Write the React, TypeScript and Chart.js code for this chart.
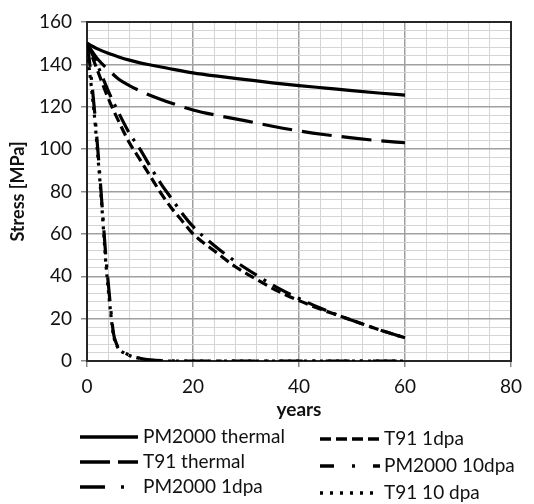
import React, { useEffect, useRef } from 'react';
import { Chart, registerables } from 'chart.js';

Chart.register(...registerables);

// ---- data ----
const seriesLabels = ['PM2000 thermal', 'T91 thermal', 'PM2000 1dpa', 'T91 1dpa', 'PM2000 10dpa', 'T91 10 dpa'];

const thermalYears = [0, 1, 2, 4, 6, 8, 10, 12, 15, 20, 25, 30, 35, 40, 45, 50, 55, 60];
const pm2000Thermal = [150, 148.6, 147.3, 145.2, 143.5, 142, 140.7, 139.7, 138.3, 136, 134.3, 132.8, 131.3, 130, 128.8, 127.6, 126.5, 125.5];
const t91Thermal = [150, 146, 142.5, 137.5, 133, 130, 127.5, 125.3, 122.5, 118.5, 115.7, 113.3, 110.8, 108.6, 106.8, 105.3, 104, 103];

const moderateYears = [0, 2, 4, 6, 8, 10, 12, 14, 16, 18, 20, 24, 28, 32, 36, 40, 44, 48, 52, 56, 60];
const t91_1dpa = [150, 137, 124, 113, 103, 95, 87, 79, 72, 66, 60, 52, 44.5, 38.5, 33, 28.5, 24.5, 21, 17.5, 14, 11];
const pm2000_10dpa = [150, 139.5, 127.5, 117, 107.5, 100, 91.5, 83.5, 76.5, 69.5, 63.5, 54.5, 47, 40.5, 34.5, 29.5, 25, 21, 17.5, 14, 11];

const steepYears = [0, 0.25, 0.75, 1.5, 2, 2.5, 3, 3.5, 4, 4.5, 5, 5.5, 6, 7, 8, 10, 12, 15, 20, 25, 30, 35, 40, 45, 50, 55, 60];
const pm2000_1dpa = [150, 146, 135, 116, 101, 85, 68, 51, 37, 24, 13, 8.5, 6, 4, 2.8, 1.3, 0.5, 0.1, 0, 0, 0, 0, 0, 0, 0, 0, 0];
const t91_10dpa = [150, 142, 131, 113, 98, 83, 66, 48, 34, 22, 12, 8, 5.5, 3.8, 2.6, 1.2, 0.4, 0, 0, 0, 0, 0, 0, 0, 0, 0, 0];

const xMin = 0, xMax = 80, xMajor = 20, xMinor = 4;
const yMin = 0, yMax = 160, yMajor = 20, yMinor = 4;

const pts = (xs: number[], ys: number[]) => xs.map((x, i) => ({ x, y: ys[i] }));

const FONT = 'Lato';

const lineDashes: number[][] = [[], [30, 10], [24, 10, 3, 10], [10, 5], [20, 8, 3, 8], [3, 5]];
const legendDashes: number[][] = [[], [30, 8], [25, 16, 3, 16], [11, 5], [14, 18, 3, 18], [3, 7]];
const legendPos = [
  { x1: 80, x2: 138, tx: 143, y: 437 },
  { x1: 80, x2: 138, tx: 143, y: 462 },
  { x1: 80, x2: 138, tx: 143, y: 487 },
  { x1: 320, x2: 380, tx: 384, y: 439 },
  { x1: 320, x2: 380, tx: 384, y: 466 },
  { x1: 320, x2: 380, tx: 384, y: 493 },
];

const framePlugin = {
  id: 'frame',
  beforeDatasetsDraw(chart: any) {
    const { ctx, chartArea: a } = chart;
    ctx.save();
    ctx.strokeStyle = '#262626';
    ctx.lineWidth = 2;
    ctx.setLineDash([]);
    ctx.strokeRect(a.left, a.top, a.right - a.left, a.bottom - a.top);
    ctx.restore();
  },
  afterDraw(chart: any) {
    const { ctx } = chart;
    ctx.save();
    seriesLabels.forEach((label, i) => {
      const p = legendPos[i];
      ctx.strokeStyle = '#000';
      ctx.lineWidth = 3.5;
      ctx.lineCap = 'butt';
      ctx.setLineDash(legendDashes[i]);
      ctx.beginPath();
      ctx.moveTo(p.x1, p.y);
      ctx.lineTo(p.x2, p.y);
      ctx.stroke();
      ctx.setLineDash([]);
      ctx.fillStyle = '#111';
      ctx.font = `19px ${FONT}`;
      ctx.textBaseline = 'middle';
      ctx.textAlign = 'left';
      ctx.fillText(label, p.tx, p.y);
    });
    ctx.restore();
  },
};

export default function App() {
  const ref = useRef<HTMLCanvasElement | null>(null);
  useEffect(() => {
    document.body.style.margin = '0';
    if (!ref.current) return;
    const seriesData = [
      pts(thermalYears, pm2000Thermal),
      pts(thermalYears, t91Thermal),
      pts(steepYears, pm2000_1dpa),
      pts(moderateYears, t91_1dpa),
      pts(moderateYears, pm2000_10dpa),
      pts(steepYears, t91_10dpa),
    ];
    const isMajor = (c: any) => c.tick && Math.abs(c.tick.value % 20) < 1e-9;
    const gridColor = (c: any) => (isMajor(c) ? '#a0a0a0' : '#d4d4d4');
    const gridWidth = (c: any) => (isMajor(c) ? 1.5 : 1);
    const tickColor = (c: any) => (isMajor(c) ? '#8a8a8a' : 'rgba(0,0,0,0)');
    const chart = new Chart(ref.current, {
      type: 'line',
      data: {
        datasets: seriesLabels.map((label, i) => ({
          label,
          data: seriesData[i],
          borderColor: '#000',
          backgroundColor: '#000',
          borderWidth: 3.2,
          borderDash: lineDashes[i],
          pointRadius: 0,
          fill: false,
          cubicInterpolationMode: 'monotone' as const,
        })),
      },
      options: {
        animation: false,
        responsive: false,
        devicePixelRatio: 1,
        layout: { padding: { left: 0, top: 22, right: 23, bottom: 83 } },
        plugins: { legend: { display: false }, tooltip: { enabled: false } },
        scales: {
          x: {
            type: 'linear',
            min: xMin,
            max: xMax,
            afterFit: (s: any) => { s.height = 60; },
            ticks: {
              stepSize: xMinor,
              autoSkip: false,
              maxRotation: 0,
              padding: 8,
              color: '#111',
              font: { family: FONT, size: 19 },
              callback: (v: any) => (Math.abs(Number(v) % xMajor) < 1e-9 ? String(v) : ''),
            },
            grid: { color: gridColor, lineWidth: gridWidth, tickColor, tickLength: 6, drawTicks: true },
            border: { display: true, color: '#262626', width: 2 },
            title: { display: true, text: 'years', color: '#111', font: { family: FONT, size: 19, weight: 'bold' }, padding: { top: 0, bottom: 0 } },
          },
          y: {
            type: 'linear',
            min: yMin,
            max: yMax,
            afterFit: (s: any) => { s.width = 87; },
            ticks: {
              stepSize: yMinor,
              autoSkip: false,
              padding: 9,
              color: '#111',
              font: { family: FONT, size: 19 },
              callback: (v: any) => (Math.abs(Number(v) % yMajor) < 1e-9 ? String(v) : ''),
            },
            grid: { color: gridColor, lineWidth: gridWidth, tickColor, tickLength: 6, drawTicks: true },
            border: { display: true, color: '#262626', width: 2 },
            title: { display: true, text: 'Stress [MPa]', color: '#111', font: { family: FONT, size: 18, weight: 'bold' }, padding: { top: 7, bottom: 0 } },
          },
        },
      },
      plugins: [framePlugin],
    } as any);
    return () => chart.destroy();
  }, []);
  return <canvas ref={ref} width={534} height={504} style={{ display: 'block' }} />;
}
